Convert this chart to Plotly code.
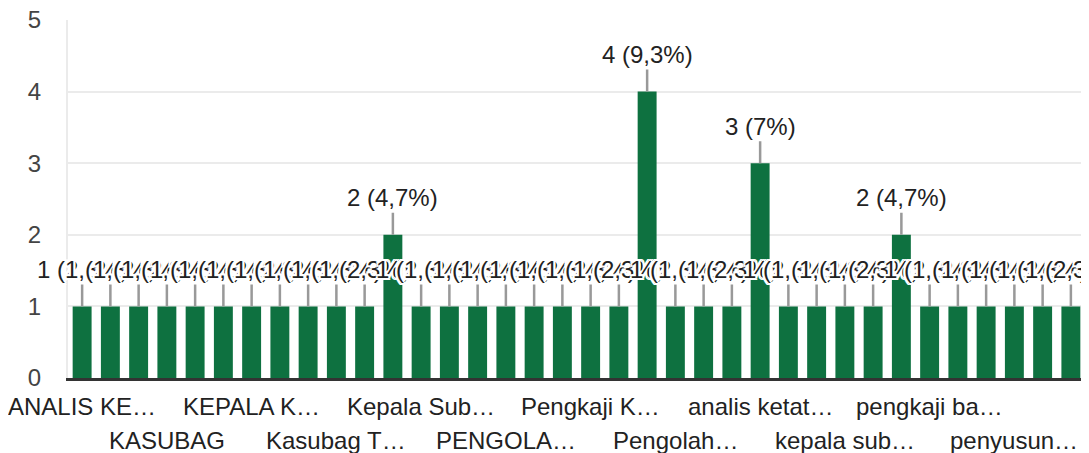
import plotly.graph_objects as go

# Data (36 responses categories, sorted as in the source chart)
positions = list(range(36))
values = [1, 1, 1, 1, 1, 1, 1, 1, 1, 1, 1, 2,
          1, 1, 1, 1, 1, 1, 1, 1, 4, 1, 1, 1,
          3, 1, 1, 1, 1, 2, 1, 1, 1, 1, 1, 1]
# Visible (truncated) category labels, shown every third bar in two rows
label_positions = [0, 3, 6, 9, 12, 15, 18, 21, 24, 27, 30, 33]
label_texts = ["ANALIS KE…", "KASUBAG", "KEPALA K…", "Kasubag T…",
               "Kepala Sub…", "PENGOLA…", "Pengkaji K…", "Pengolah…",
               "analis ketat…", "kepala sub…", "pengkaji ba…", "penyusun…"]
y_ticks = [0, 1, 2, 3, 4, 5]

total = sum(values)
FONT = "Liberation Sans, Arial, sans-serif"
GREEN = "#0e7140"
FS = 24

def pct(v):
    s = f"{v / total * 100:.1f}".replace(".", ",")
    if s.endswith(",0"):
        s = s[:-2]
    return f"{v} ({s}%)"

fig = go.Figure()
fig.add_trace(go.Bar(x=positions, y=values, marker=dict(color=GREEN, line=dict(width=0)),
                     hoverinfo="skip"))

halo = ("white 2px 0px 0px, white -2px 0px 0px, white 0px 2px 0px, white 0px -2px 0px, "
        "white 2px 2px 0px, white -2px -2px 0px, white 2px -2px 0px, white -2px 2px 0px")

annotations = []
for x, v in zip(positions, values):
    annotations.append(dict(
        x=x, y=v, xref="x", yref="y", text=pct(v), showarrow=True,
        arrowhead=0, arrowwidth=2.5, arrowcolor="#999999", ax=0, ay=-37,
        font=dict(family=FONT, size=FS, color="#222222", shadow=halo),
    ))
for i, (x, t) in enumerate(zip(label_positions, label_texts)):
    annotations.append(dict(
        x=x, y=0, xref="x", yref="paper", text=t, showarrow=False,
        yanchor="middle", yshift=-28 if i % 2 == 0 else -62,
        font=dict(family=FONT, size=FS, color="#222222"),
    ))

fig.update_layout(
    width=1081, height=445,
    margin=dict(l=60, r=4, t=12, b=75, pad=0),
    paper_bgcolor="white", plot_bgcolor="white",
    bargap=0.33, showlegend=False,
    annotations=annotations,
    xaxis=dict(range=[-0.5, 35.5], showticklabels=False, showgrid=False,
               zeroline=False, showline=True, linecolor="#333333", linewidth=3,
               ticks="", automargin=False),
    yaxis=dict(range=[0, 5], tickvals=y_ticks, showgrid=True, gridcolor="#ebebeb",
               gridwidth=2, zeroline=False, showline=True, linecolor="#ebebeb",
               linewidth=2, mirror=True, ticks="outside", ticklen=20,
               tickcolor="rgba(0,0,0,0)", ticklabeloverflow="allow",
               automargin=False,
               tickfont=dict(family=FONT, size=FS, color="#444444")),
)

fig.write_html("out.html")
